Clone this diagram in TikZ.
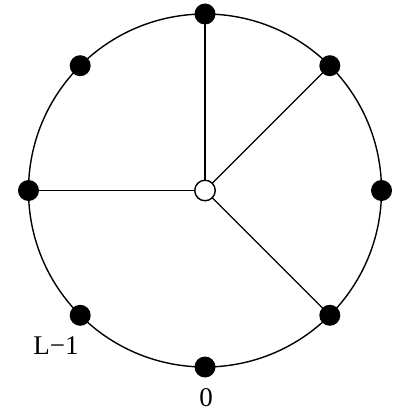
\documentclass[tikz,border=0pt]{standalone}
\usepackage{fontspec}
\setmainfont{Liberation Serif}
\usetikzlibrary{calc}
\newcommand{\bigtxt}{\fontsize{27pt}{30pt}\selectfont}
\begin{document}
\begin{tikzpicture}[x=1pt,y=-1pt,
  dot/.style={circle,fill=black,inner sep=0pt,minimum size=21pt},
  hub/.style={circle,draw=black,fill=white,line width=1.4pt,inner sep=0pt,minimum size=20.5pt},
  ring/.style={line width=1.4pt},
  spoke/.style={line width=1.4pt},
  lbl/.style={inner sep=0pt}]
\useasboundingbox (0,0) rectangle (396,414);
\coordinate (c) at (205,190.5);
\draw[ring] (c) circle[radius=176.5];
% y axis points down, so angle -90 is the top
\foreach \a/\n in {-90/ptop, -45/ptr, 0/pr, 45/pbr, 90/pbot, 135/pbl, 180/pl, -135/ptl}
  \coordinate (\n) at ($(c)+(\a:176.5)$);
\draw[spoke] (c) -- (ptop);
\draw[spoke] (c) -- (ptr);
\draw[spoke] (c) -- (pl);
\draw[spoke] (c) -- (pbr);
\node[hub] (h) at (c) {};
\foreach \n in {ptop,ptr,pr,pbr,pbot,pbl,pl,ptl}
  \node[dot] (d\n) at (\n) {};
\node[lbl] (l1) at (56,346) {\bigtxt L−1};
\node[lbl] (l0) at (206,397.5) {\bigtxt 0};
\end{tikzpicture}
\end{document}
